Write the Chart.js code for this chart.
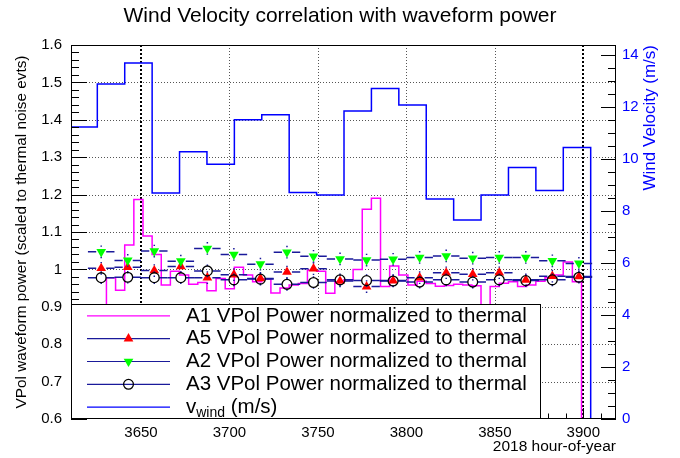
<!DOCTYPE html>
<html><head><meta charset="utf-8">
<script src="https://cdn.jsdelivr.net/npm/chart.js@4.4.1/dist/chart.umd.min.js"></script>
<style>html,body{margin:0;padding:0;background:#fff;}#wrap{width:680px;height:458px;}</style>
</head><body><div id="wrap"><canvas id="c" width="680" height="458"></canvas></div>
<script>
// ---------- data ----------
const xTicks  = [3650, 3700, 3750, 3800, 3850, 3900];
const yTicks  = [0.6, 0.7, 0.8, 0.9, 1.0, 1.1, 1.2, 1.3, 1.4, 1.5, 1.6];
const y2Ticks = [0, 2, 4, 6, 8, 10, 12, 14];
const markedHours = [3650, 3900];

// 15-hour points (A5, A2, A3 graphs)
const markerHours = [3627.5, 3642.5, 3657.5, 3672.5, 3687.5, 3702.5, 3717.5, 3732.5, 3747.5, 3762.5,
                     3777.5, 3792.5, 3807.5, 3822.5, 3837.5, 3852.5, 3867.5, 3882.5, 3897.5];
const a5Power = [1.003, 1.006, 0.997, 1.008, 0.978, 0.986, 0.976, 0.993, 1.002, 0.969,
                 0.954, 0.970, 0.978, 0.991, 0.987, 0.991, 0.972, 0.982, 0.981];
const a2Power = [1.047, 1.024, 1.049, 1.022, 1.056, 1.040, 1.014, 1.046, 1.035, 1.028,
                 1.025, 1.027, 1.032, 1.036, 1.030, 1.032, 1.032, 1.023, 1.016];
const a3Power = [0.978, 0.979, 0.978, 0.978, 0.996, 0.972, 0.974, 0.960, 0.965, 0.972,
                 0.970, 0.969, 0.966, 0.972, 0.966, 0.972, 0.970, 0.972, 0.979];
const errHalfHours = 7.5;
const errPower = 0.017;

// A1 histogram (5-hour bins)
const a1BinStart = 3630.46;
const a1BinWidth = 5.164;
const a1Power = [0.978, 0.944, 1.065, 1.187, 1.089, 1.040, 0.958, 0.995, 0.985, 0.960,
                 0.965, 0.943, 0.976, 0.948, 1.006, 0.985, 0.967, 0.974, 0.937, 0.950,
                 0.958, 0.962, 0.998, 0.995, 0.936, 0.967, 0.972, 1.000, 1.161, 1.190,
                 0.954, 1.009, 0.985, 0.958, 0.968, 0.962, 0.955, 0.957, 0.960, 0.958,
                 0.956, 0.850, 0.954, 0.963, 0.967, 0.954, 0.958, 0.968, 0.978, 0.985,
                 1.020, 0.967];

// wind velocity histogram (m/s)
const windBinStart = 3609.81;
const windBinWidth = 15.493;
const windSpeed = [11.22, 12.87, 13.68, 8.68, 10.27, 9.79, 11.50, 11.69, 8.70, 8.61,
                   11.83, 12.70, 12.06, 8.45, 7.65, 8.61, 9.66, 8.78, 10.43];

// ---------- chart ----------
const FONT = "'Liberation Sans', Arial, Helvetica, sans-serif";
Chart.defaults.font.family = FONT;
Chart.defaults.color = '#000';
const NAVY = '#1a1a9a', BLUE = '#0000ff', MAGENTA = '#ff00ff';

function histPoints(start, width, values) {
  const pts = [{x: start, y: 0}];
  values.forEach((v, i) => pts.push({x: start + i * width, y: v}));
  pts.push({x: start + values.length * width, y: 0});
  return pts;
}
const pts = (ys) => markerHours.map((h, i) => ({x: h, y: ys[i]}));

function line(ctx, x1, y1, x2, y2) { ctx.beginPath(); ctx.moveTo(x1, y1); ctx.lineTo(x2, y2); ctx.stroke(); }
function marker(ctx, style, cx, cy, ds) {
  ctx.save();
  ctx.setLineDash([]);
  if (style === 'circle') {
    ctx.beginPath(); ctx.arc(cx, cy, ds.pointRadius, 0, Math.PI * 2);
    ctx.lineWidth = ds.borderWidth; ctx.strokeStyle = ds.borderColor; ctx.stroke();
  } else {
    const r = ds.pointRadius, rot = (ds.rotation || 0) * Math.PI / 180;
    ctx.beginPath();
    for (let k = 0; k < 3; k++) {
      const t = rot + k * 2 * Math.PI / 3;
      const px = cx + Math.sin(t) * r, py = cy - Math.cos(t) * r;
      k ? ctx.lineTo(px, py) : ctx.moveTo(px, py);
    }
    ctx.closePath(); ctx.fillStyle = ds.backgroundColor; ctx.fill();
  }
  ctx.restore();
}

const errorBars = {
  id: 'errorBars',
  beforeDatasetDraw(chart, args) {
    const ds = chart.data.datasets[args.index];
    if (!ds.errX) return;
    const {ctx, chartArea: a} = chart;
    const xs = chart.scales.x, ys = chart.scales.y;
    ctx.save();
    ctx.beginPath(); ctx.rect(a.left, a.top, a.right - a.left, a.bottom - a.top); ctx.clip();
    ctx.strokeStyle = NAVY; ctx.lineWidth = 1.5;
    const g = 5;
    ds.data.forEach(p => {
      const px = xs.getPixelForValue(p.x), py = ys.getPixelForValue(p.y);
      const x1 = xs.getPixelForValue(p.x - ds.errX), x2 = xs.getPixelForValue(p.x + ds.errX);
      const yTop = ys.getPixelForValue(p.y + ds.errY), yBot = ys.getPixelForValue(p.y - ds.errY);
      ctx.beginPath();
      ctx.moveTo(x1, py); ctx.lineTo(px - g, py);
      ctx.moveTo(px + g, py); ctx.lineTo(x2, py);
      if (yTop < py - g) { ctx.moveTo(px, py - g); ctx.lineTo(px, yTop); }
      if (yBot > py + g) { ctx.moveTo(px, py + g); ctx.lineTo(px, yBot); }
      ctx.stroke();
    });
    ctx.restore();
  }
};

const frameGrid = {
  id: 'frameGrid',
  beforeDatasetsDraw(chart) {
    const {ctx, chartArea: a, scales: {x, y}} = chart;
    ctx.save();
    ctx.lineWidth = 1; ctx.strokeStyle = '#555'; ctx.setLineDash([1, 2]);
    xTicks.forEach(v => {
      if (markedHours.includes(v)) return;
      const px = Math.round(x.getPixelForValue(v)) + 0.5;
      line(ctx, px, a.top, px, a.bottom);
    });
    yTicks.forEach(v => {
      if (v <= yTicks[0] || v >= yTicks[yTicks.length - 1]) return;
      const py = Math.round(y.getPixelForValue(v)) + 0.5;
      line(ctx, a.left, py, a.right, py);
    });
    ctx.strokeStyle = '#000'; ctx.lineWidth = 2; ctx.setLineDash([2, 2]);
    markedHours.forEach(v => {
      const px = Math.round(x.getPixelForValue(v));
      line(ctx, px, a.top, px, a.bottom);
    });
    ctx.restore();
  },
  afterDatasetsDraw(chart) {
    const {ctx, chartArea: a, scales: {x, y, y2}} = chart;
    ctx.save();
    ctx.setLineDash([]); ctx.strokeStyle = '#000'; ctx.lineWidth = 1;
    for (let i = 30; i <= 80; i++) {          // left axis: every 0.02
      const py = Math.round(y.getPixelForValue(i / 50)) + 0.5;
      const len = (i % 5 === 0) ? 16 : 8;
      line(ctx, a.left, py, a.left + len, py);
    }
    for (let i = 0; i <= 28; i++) {           // right axis: every 0.5
      const py = Math.round(y2.getPixelForValue(i / 2)) + 0.5;
      const len = (i % 4 === 0) ? 15 : 8;
      line(ctx, a.right - len, py, a.right, py);
    }
    for (let h = 3620; h <= 3910; h += 10) {  // bottom axis: every 10
      const px = Math.round(x.getPixelForValue(h)) + 0.5;
      const len = (h % 50 === 0) ? 11 : 5.5;
      line(ctx, px, a.bottom, px, a.bottom - len);
    }
    ctx.strokeRect(a.left + 0.5, a.top + 0.5, a.right - a.left - 1, a.bottom - a.top - 1);
    // right-axis title (reads bottom to top, aligned to top end)
    ctx.fillStyle = BLUE; ctx.font = '17px ' + FONT;
    ctx.translate(650, a.top); ctx.rotate(-Math.PI / 2);
    ctx.textAlign = 'right'; ctx.textBaseline = 'middle';
    ctx.fillText('Wind Velocity (m/s)', 0, 0);
    ctx.restore();
  }
};

const rootLegend = {
  id: 'rootLegend',
  afterDraw(chart) {
    const {ctx, chartArea: a} = chart;
    const L = a.left + 0.5, T = 304.5, R = 540.5, B = a.bottom - 0.5;
    ctx.save();
    ctx.setLineDash([]);
    ctx.fillStyle = '#fff'; ctx.fillRect(L, T, R - L, B - T);
    ctx.strokeStyle = '#000'; ctx.lineWidth = 1; ctx.strokeRect(L, T, R - L, B - T);
    const rowH = (B - T) / 5;
    chart.data.datasets.forEach((ds, i) => {
      const cy = T + rowH * (i + 0.5);
      ctx.strokeStyle = ds.legendLine || ds.borderColor; ctx.lineWidth = 1.2;
      line(ctx, 87, cy, 170, cy);
      if (ds.pointStyle && ds.pointRadius) marker(ctx, ds.pointStyle, 128.5, cy, ds);
      ctx.fillStyle = '#000'; ctx.textBaseline = 'middle'; ctx.textAlign = 'left';
      let tx = 186;
      (ds.legendParts || [[ds.label, 20.5, 0]]).forEach(([t, size, dy]) => {
        ctx.font = size + 'px ' + FONT;
        ctx.fillText(t, tx, cy + dy);
        tx += ctx.measureText(t).width;
      });
    });
    ctx.restore();
  }
};

new Chart(document.getElementById('c'), {
  type: 'scatter',
  data: {
    datasets: [
      { type: 'line', label: 'A1 VPol Power normalized to thermal', data: histPoints(a1BinStart, a1BinWidth, a1Power),
        borderColor: MAGENTA, borderWidth: 1.5, pointRadius: 0, stepped: 'before', fill: false, clip: 0, order: 4 },
      { label: 'A5 VPol Power normalized to thermal', data: pts(a5Power), pointStyle: 'triangle', pointRadius: 5.6,
        backgroundColor: '#ff0000', borderColor: '#ff0000', borderWidth: 0, legendLine: NAVY,
        errX: errHalfHours, errY: errPower, order: 3 },
      { label: 'A2 VPol Power normalized to thermal', data: pts(a2Power), pointStyle: 'triangle', rotation: 180, pointRadius: 5.6,
        backgroundColor: '#00ff00', borderColor: '#00ff00', borderWidth: 0, legendLine: NAVY,
        errX: errHalfHours, errY: errPower, order: 2 },
      { label: 'A3 VPol Power normalized to thermal', data: pts(a3Power), pointStyle: 'circle', pointRadius: 4.9,
        backgroundColor: 'rgba(0,0,0,0)', borderColor: '#000', borderWidth: 1.3, legendLine: NAVY,
        errX: errHalfHours, errY: errPower, order: 1 },
      { type: 'line', label: 'vwind (m/s)', legendParts: [['v', 20.5, 0], ['wind', 14, 6], [' (m/s)', 20.5, 0]],
        data: histPoints(windBinStart, windBinWidth, windSpeed), yAxisID: 'y2',
        borderColor: BLUE, borderWidth: 1.5, pointRadius: 0, stepped: 'before', fill: false, clip: 0, order: 5 }
    ]
  },
  options: {
    responsive: false, animation: false, devicePixelRatio: 1, events: [],
    layout: { padding: 0 },
    plugins: {
      legend: { display: false }, tooltip: { enabled: false },
      title: { display: true, text: 'Wind Velocity correlation with waveform power',
               font: { size: 21, weight: 'normal' }, color: '#000', padding: { top: 4, bottom: 15.8 } }
    },
    scales: {
      x: { type: 'linear', min: 3610.43, max: 3918.48,
           grid: { display: false, drawTicks: false }, border: { display: false },
           afterBuildTicks: s => { s.ticks = xTicks.map(v => ({ value: v })); },
           afterFit: s => { s.height = 39; },
           ticks: { autoSkip: false, maxRotation: 0, padding: 5, font: { size: 15 }, color: '#000', callback: v => String(v) },
           title: { display: true, text: '2018 hour-of-year', align: 'end', font: { size: 15.5 }, color: '#000', padding: { top: 0, bottom: 1.5 } } },
      y: { type: 'linear', position: 'left', min: 0.6, max: 1.6,
           grid: { display: false, drawTicks: false }, border: { display: false },
           afterBuildTicks: s => { s.ticks = yTicks.map(v => ({ value: v })); },
           afterFit: s => { s.width = 71; },
           ticks: { autoSkip: false, padding: 9, font: { size: 15 }, color: '#000', callback: v => String(+v.toFixed(2)) },
           title: { display: true, text: 'VPol waveform power (scaled to thermal noise evts)', font: { size: 15.3 }, color: '#000', padding: { top: 13, bottom: 0 } } },
      y2: { type: 'linear', position: 'right', min: 0, max: 14.37,
           grid: { display: false, drawTicks: false }, border: { display: false },
           afterBuildTicks: s => { s.ticks = y2Ticks.map(v => ({ value: v })); },
           afterFit: s => { s.width = 64; },
           ticks: { autoSkip: false, padding: 6, font: { size: 15 }, color: BLUE, callback: v => String(v) } }
    }
  },
  plugins: [frameGrid, errorBars, rootLegend]
});
</script></body></html>
